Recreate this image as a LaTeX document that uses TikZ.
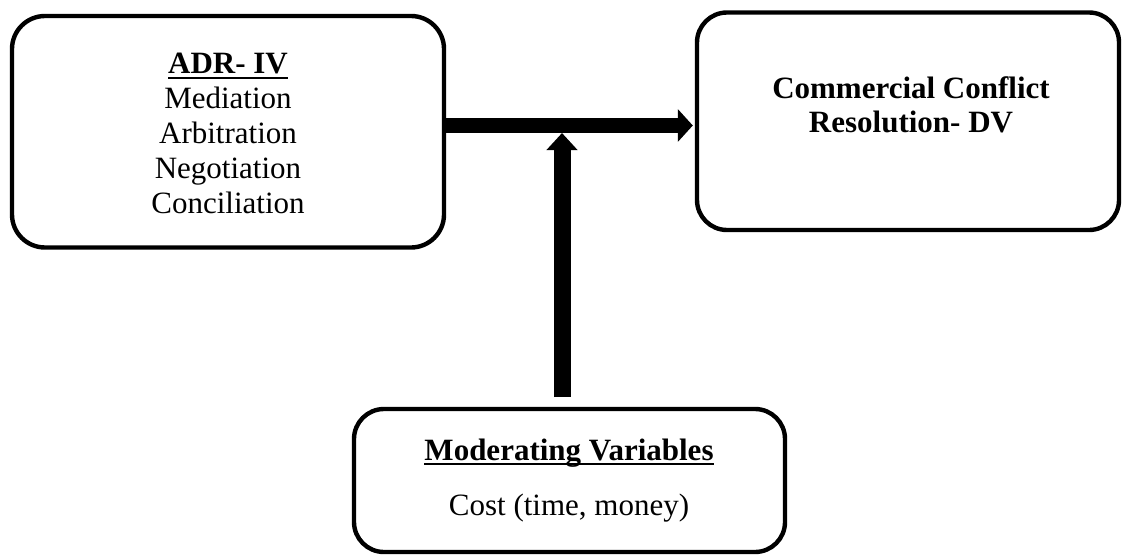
\documentclass[tikz,border=0pt]{standalone}
\usepackage{fontspec}
\setmainfont{Liberation Serif}
\usetikzlibrary{arrows.meta}
\newcommand{\myul}[1]{\setbox0\hbox{#1}\rlap{\rule[-2.6pt]{\wd0}{0.9pt}}\box0}
\begin{document}
\begin{tikzpicture}[x=0.5pt,y=-0.5pt,
  box/.style={draw=black, line width=2.2pt, fill=white, inner sep=0pt},
  txt/.style={anchor=base, inner sep=0pt, font=\fontsize{15.5pt}{17pt}\selectfont},
  bigarrow/.style={line width=7.5pt, -{Triangle[length=7.5pt,width=16pt]}},
  uparrow/.style={line width=8.5pt, -{Triangle[length=8.5pt,width=15pt]}}]
\useasboundingbox (0,0) rectangle (1122,556);
% boxes
\node[box, rounded corners=16.5pt, minimum width=216pt, minimum height=115.75pt] (iv) at (228,131.75) {};
\node[box, rounded corners=15pt, minimum width=211pt, minimum height=108.75pt] (dv) at (908,121.25) {};
\node[box, rounded corners=15pt, minimum width=215.5pt, minimum height=71.5pt] (mv) at (569.5,480.5) {};
% texts
\node[txt] (l1) at (228,74) {\textbf{\myul{ADR- IV}}};
\node[txt] (l2) at (228,108) {Mediation};
\node[txt] (l3) at (228,143) {Arbitration};
\node[txt] (l4) at (228,178) {Negotiation};
\node[txt] (l5) at (228,213) {Conciliation};
\node[txt] (r1) at (911,98) {\textbf{Commercial Conflict}};
\node[txt] (r2) at (911,132) {\textbf{Resolution- DV}};
\node[txt] (b1) at (569,460) {\textbf{\myul{Moderating Variables}}};
\node[txt] (b2) at (569,515) {Cost (time, money)};
% connectors
\coordinate (hy) at (0,125.5);
\coordinate (vtop) at (562,133);
\coordinate (vbot) at (562,397);
\draw[bigarrow] (iv.east |- hy) -- ([xshift=-1pt]dv.west |- hy);
\draw[uparrow] (vbot) -- (vtop);
\end{tikzpicture}
\end{document}
